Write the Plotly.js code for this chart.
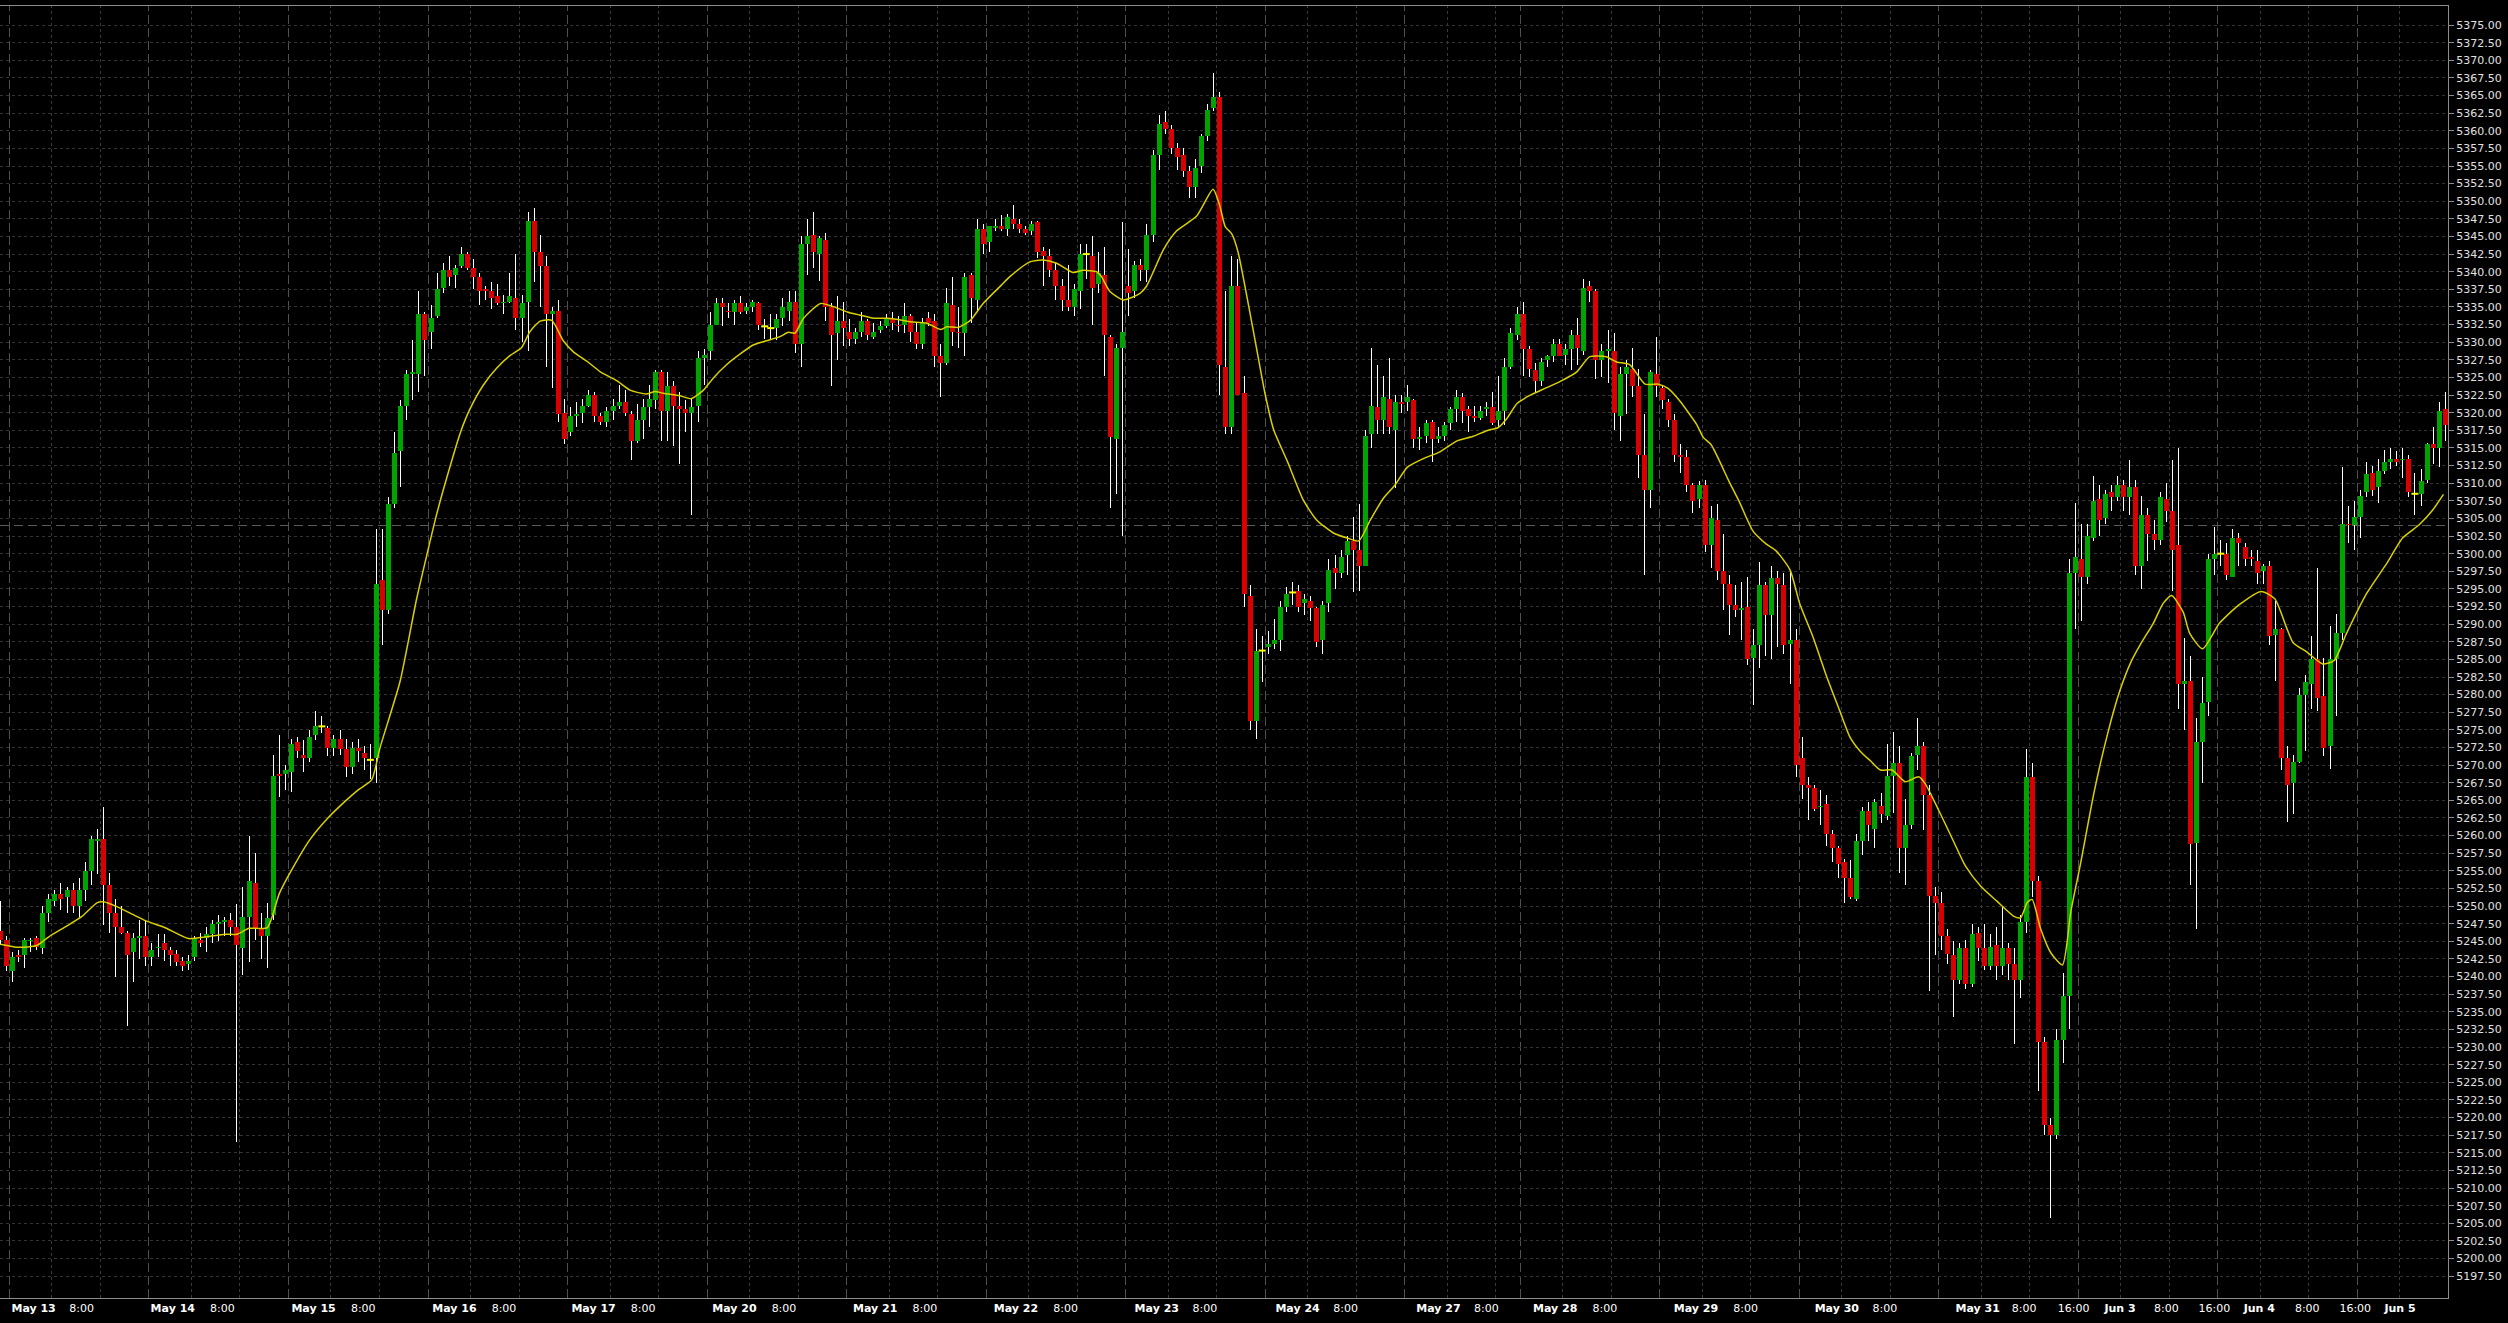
<!DOCTYPE html>
<html><head><meta charset="utf-8">
<script src="https://cdn.plot.ly/plotly-3.0.1.min.js"></script>
<style>html,body{margin:0;padding:0;background:#000;}#chart{width:2508px;height:1323px;}
#chart .scatterlayer .trace:nth-child(-n+3) path.js-line{shape-rendering:crispEdges;}
#chart .gridlayer path, #chart .shapelayer path{shape-rendering:crispEdges;}
</style>
</head><body><div id="chart"></div>
<script>
// ---- hourly OHLC (one candle per hour) ----
const openP = [
5246.5,5245.25,5240.75,5243,5243,5245,5245.5,5244,5249,5250.75,
5251.75,5251.25,5252.25,5250,5252.25,5255,5259.25,5259.5,5253,5249,
5247,5246.25,5243.5,5245.5,5245.75,5242.75,5244,5244.75,5243.75,5243.25,
5242.25,5241.75,5242.75,5245.25,5245.5,5246,5247.5,5247.75,5248,5247,
5244,5248.5,5253.25,5246.75,5245.75,5248.75,5268.75,5268.75,5269,5273.25,
5271.5,5271,5274.25,5275.5,5275.25,5272.5,5273.75,5272.25,5269.75,5272.5,
5271.75,5270.75,5271,5296.25,5292,5307,5314.5,5321,5325.5,5325.5,
5334,5331.5,5333.75,5337.75,5340.25,5339.5,5340.75,5342.5,5340.5,5339.25,
5337.5,5337.25,5336.5,5335.5,5335.75,5336.25,5333.5,5335.75,5347.25,5342.75,
5340.75,5334,5334.5,5320,5317.25,5319.5,5320,5321,5322.5,5319.5,
5318.75,5320.25,5321,5321.5,5319.75,5316,5319,5320.75,5321.75,5325.75,
5320.25,5323.75,5321,5320.5,5320,5321,5327.75,5328.75,5332.5,5335.5,
5334.5,5334.25,5335.5,5334.5,5335,5335.5,5332.25,5332,5332,5333.5,
5334.5,5335.75,5329.75,5344,5345.25,5342.5,5344.5,5335,5331.25,5333,
5331.5,5330.5,5331.5,5333,5330.75,5331.75,5332.25,5333.25,5332.5,5332.5,
5333.75,5331.5,5329.75,5333.5,5333,5328,5327,5335.25,5331.5,5331.25,
5339.5,5336,5346,5344.25,5346.25,5346.5,5346,5347.5,5346.75,5346,
5345.75,5347,5343,5342.25,5340.25,5338,5336,5335,5337.25,5342.5,
5342.25,5338.25,5339.5,5330.75,5316.25,5329.25,5338,5337.25,5341,5340.25,
5345.25,5356.5,5361.25,5360.25,5357.5,5356.5,5354.25,5352,5355,5359.25,
5363.25,5364.75,5326.5,5318,5338,5322.75,5294,5276.25,5286.25,5286.75,
5287.25,5287.75,5292.5,5294.5,5294.75,5293,5293.25,5292.25,5287.75,5293,
5298,5297.25,5299.75,5301.75,5300.5,5298.25,5317,5320.75,5319,5322,
5317.5,5321.5,5321.5,5321.75,5316.25,5316.75,5318.75,5316.25,5316.75,5318.5,
5320.5,5322.25,5320.5,5319.5,5319.25,5320.5,5320.75,5319,5320.25,5326.5,
5331,5334,5329,5326,5324.5,5327.5,5328,5329.75,5328.25,5329,
5331,5328.75,5338,5337.25,5327.5,5328.75,5328.75,5319.5,5325.5,5326.25,
5323.75,5314,5309,5325.5,5323.5,5321.5,5319,5314,5313.75,5309.75,
5307.75,5309.75,5301.25,5304.75,5297.5,5295.75,5292.75,5292,5292.5,5285.25,
5287,5295.5,5291.25,5296.5,5295.5,5287.25,5287.75,5271,5267.25,5266.75,
5264,5264.5,5260.25,5258.25,5256.25,5254,5251,5259.25,5263.5,5261,
5264.25,5262.75,5268.5,5270.25,5258.25,5261.5,5271.5,5272.75,5265.75,5251.5,
5250.5,5245.75,5243,5239.5,5244,5239,5246.25,5244,5241.5,5244.5,
5241.5,5244,5241.75,5239.5,5247.75,5268.25,5253.5,5230.75,5219,5217.5,
5231,5237.25,5297.25,5299.25,5296.75,5302.25,5307.75,5305,5308.75,5308,
5309.75,5308,5309.5,5298.25,5305.5,5302.75,5302,5307.75,5306,5301.25,
5281.5,5282,5259,5273.25,5279,5299.25,5300,5300,5296.75,5302.25,
5301,5299.5,5299,5297.5,5298.25,5288.5,5289.25,5271,5267.5,5270.5,
5280,5281.5,5285,5279.75,5272.75,5285,5288.75,5304.25,5304,5305.25,
5308.75,5311.5,5309.5,5311.75,5313,5313.5,5313.25,5313.5,5308.5,5308.5,
5310.5,5315.5,5315,5320.5];
const highP = [
5250.75,5245.75,5243.5,5243.75,5245.5,5245.5,5245.75,5250,5251.75,5252.25,
5253.25,5252.75,5253.25,5254,5256.25,5260,5261,5264,5254.75,5251,
5250,5246.5,5246.25,5248,5248,5244.75,5246,5246,5244.25,5243.75,
5242.75,5243,5245.75,5246.25,5247,5248,5248.75,5248.5,5249,5250.25,
5252.75,5260,5257.5,5249,5250.5,5271.5,5274.25,5270,5273.75,5274,
5273.5,5275,5277.75,5277,5275.5,5274.25,5275,5273.75,5273.25,5273.75,
5272.75,5273,5303.5,5303.5,5308,5317.25,5321.75,5326,5330.25,5337.25,
5334.25,5335.25,5339.75,5341.25,5342.25,5341,5343.5,5342.75,5341.75,5339.75,
5338,5338.5,5338.25,5336.75,5339.75,5342.5,5336.75,5348.5,5349,5345.25,
5342.25,5335,5336,5322,5320.75,5321.5,5322,5323.25,5323,5320,
5320.75,5322,5324,5323.25,5320.25,5321.25,5322,5324,5326,5326,
5325.75,5324.5,5323,5321.75,5322,5328.75,5329,5334.25,5336.25,5336.25,
5335.5,5336,5336.5,5335.5,5336,5335.75,5333.25,5334,5334,5336.25,
5337.25,5337.25,5345,5347.5,5348.5,5345,5345.5,5335.5,5336.5,5335.75,
5333.25,5332,5334.25,5333.25,5332.75,5333,5334,5334.25,5333.75,5335.5,
5334,5332.75,5333.5,5334.25,5334,5329.75,5337.75,5339.25,5335,5339.75,
5339.75,5347.5,5346.75,5346.5,5347.5,5348,5348.25,5349.5,5347.5,5346.5,
5347.25,5347.25,5343.5,5343.25,5341.25,5339,5341,5338.25,5344,5344,
5345,5342.75,5343.5,5331,5329.75,5347,5343.25,5341.5,5341.75,5346.75,
5357.25,5362.25,5362.75,5360.75,5358.25,5357.5,5355,5356,5359.5,5363.75,
5368.25,5365.5,5337.25,5342.25,5341.75,5325.25,5295.5,5289.25,5288.25,5289,
5290.75,5293.25,5295.25,5296,5295.5,5294.25,5294,5292.5,5293.25,5299.25,
5299.75,5300.5,5302.5,5305.25,5307,5317.5,5329.25,5326.75,5325.25,5327.75,
5322.5,5322.5,5324,5322,5318,5319,5319,5318,5318.75,5320.75,
5323.25,5322.75,5321,5321,5321,5321.5,5323,5325.25,5327.75,5332,
5335,5335.75,5329.5,5327,5327.75,5328.25,5330.5,5330.5,5329.75,5331.75,
5333.5,5339,5338.75,5337.5,5329.75,5331.75,5331.25,5326.5,5327.5,5329.25,
5326.25,5319.75,5326,5330.75,5324,5322,5319.75,5315.5,5314.75,5310,
5310.25,5310.5,5306.75,5307,5302.75,5297,5295.5,5296,5296.75,5289.25,
5298.75,5296,5298.25,5297.5,5297.25,5297.75,5289.25,5274,5268.25,5267.25,
5266.5,5265.75,5260.75,5258.5,5256.75,5256.5,5260.25,5264,5264.75,5265.25,
5266,5273,5274.75,5272.75,5265.25,5271.75,5276.75,5273.25,5267.25,5252.75,
5252,5246.75,5245,5244.75,5245.25,5247.5,5247,5247.5,5246,5247,
5250,5244.75,5244,5248.75,5272.25,5270.25,5254.25,5231.5,5220,5232.5,
5240.5,5299.25,5307.25,5304.25,5304.25,5311,5309.75,5309,5309.75,5311,
5310.5,5313.25,5310.5,5308.25,5306.5,5304.75,5308.75,5310,5313.25,5315,
5288,5285.5,5276.75,5282.5,5300,5303.75,5302,5301.5,5303.5,5303,
5301.5,5300.5,5300.5,5298.5,5299,5293.25,5289.5,5272.75,5271.5,5281,
5282.75,5288.25,5298,5285.25,5289.75,5291.5,5312.25,5306.75,5307.5,5309,
5313,5312.5,5313.5,5314.75,5315,5314.5,5315,5314,5311.5,5312,
5315.75,5318,5321.5,5323];
const lowP = [
5244.5,5240.75,5239.25,5242,5241.25,5243.5,5243.75,5243.25,5247.75,5250,
5249.5,5249,5249,5248.5,5250.75,5253,5254.5,5247.25,5246.25,5240,
5246,5233,5239.25,5242.5,5241.5,5241.5,5242.75,5242.25,5241.5,5241.5,
5240.75,5241,5242.25,5244.25,5243.5,5244.75,5245,5245.75,5245.75,5216.5,
5240.25,5242,5245.25,5242.5,5241.25,5248,5265.5,5266.5,5266.25,5271,
5269,5270.5,5273.5,5274.5,5271.25,5271.25,5271.5,5268.25,5268.75,5270.5,
5269.25,5268,5267.5,5287,5291.5,5306.5,5309.5,5319,5321.75,5323,
5325.25,5329,5333.5,5337,5338,5337.75,5340.5,5340.25,5337.5,5335.25,
5336,5334.75,5335.25,5334,5335.5,5331.75,5330,5328.75,5338.5,5335,
5326.5,5323.5,5318.75,5315.5,5316.75,5318,5318.5,5320.75,5318.75,5318.25,
5318,5319,5320.5,5319.5,5313.25,5315.75,5316.25,5318,5320.5,5316,
5316,5315.25,5312.75,5317.25,5305.5,5318.75,5324,5327.5,5332.5,5332.25,
5333.5,5332.5,5334,5334,5334.25,5331.75,5330.5,5330.25,5330.25,5332.25,
5333,5328.5,5326.5,5339.5,5340.5,5338.75,5333,5323.75,5327.5,5329.5,
5329.5,5329.75,5330.75,5330.25,5330.5,5331.25,5332,5331.75,5331.5,5331.25,
5330,5329,5329,5332.25,5326.5,5322.25,5326.75,5329.5,5329.25,5328,
5332.75,5334.25,5342.5,5342.75,5345.75,5345.75,5345,5346,5345.5,5345.25,
5345.25,5342,5338,5339.25,5336,5334.5,5334.5,5333.75,5334.75,5339,
5332.5,5337,5325.25,5306.5,5308.5,5302.5,5333.75,5336.25,5338.75,5338.5,
5344.25,5354.5,5359.5,5356.75,5354.5,5353.5,5350.5,5350.5,5354,5358.5,
5362.75,5322.5,5317,5317,5322.5,5292.5,5275,5273.75,5281.75,5285.75,
5286.5,5286.25,5291.75,5292.75,5291.75,5291.25,5290.5,5286.75,5285.75,5291.75,
5295,5296.5,5297,5294.5,5294.75,5298.25,5315,5317,5317,5317,
5309.25,5320,5320.25,5315,5314.75,5315.75,5313,5315.75,5316,5317.5,
5318.75,5318.5,5317.25,5318.75,5319,5319.5,5318.25,5318,5318.25,5326.25,
5330.25,5325.25,5325,5323,5323.75,5326.5,5327.25,5328,5326.75,5326,
5326.75,5328.25,5335.75,5324.75,5325,5324.25,5317.5,5316,5319.75,5322.25,
5310.75,5297,5306.5,5322.25,5320.5,5318,5313,5311.5,5308.75,5305.75,
5306.5,5300.25,5298,5296.25,5292,5288.5,5291,5287.75,5284.25,5278.5,
5283.75,5285.5,5285,5286.75,5285.75,5281.5,5268.25,5265.25,5262.25,5263.5,
5261.5,5258.5,5256.25,5254,5250.5,5251,5250.75,5257.25,5259.25,5258.25,
5261.75,5262.25,5263.25,5254.75,5253,5261,5269.25,5260.75,5238,5243,
5243.75,5241.75,5234.25,5239,5238.25,5238.5,5242.25,5241,5241,5239.5,
5240.25,5239.5,5230.5,5237,5246.25,5251.25,5223.75,5217.5,5205.75,5217,
5227.75,5232.5,5289.25,5290.5,5295.75,5301.75,5302.5,5304.25,5306,5307.5,
5306,5305.5,5297,5295,5299,5300.5,5301.25,5304.5,5294.75,5278,
5275,5253,5246.75,5267.5,5277,5297,5298.25,5296.25,5296.75,5298.25,
5298.25,5298.25,5295.75,5295.75,5287,5282,5269.25,5262,5263,5270.25,
5272,5278,5277.75,5271.25,5269.5,5277,5287.75,5301.5,5300.5,5302.25,
5308,5308.25,5307.25,5311.25,5312,5312.5,5310.75,5308,5305.5,5306.75,
5310,5312.75,5312.25,5316];
const closeP = [
5245.25,5241.5,5242.75,5242.75,5245.25,5245.25,5244.25,5249,5251,5251.75,
5251,5252.25,5250,5252.25,5255,5259.5,5259.5,5253,5249,5247,
5246.25,5243,5245.5,5245.75,5242.75,5243.75,5244.25,5243.75,5243,5242,
5241.5,5242.25,5245.5,5244.75,5246,5247.5,5247.75,5248,5247,5244.5,
5248.5,5253.5,5246.75,5245.75,5248.25,5268.5,5268.5,5269.25,5273,5272,
5271,5274,5275.5,5275.5,5272.5,5273.75,5272.25,5269.75,5272.5,5272,
5271,5270.75,5295.75,5292,5307,5314.25,5321,5325.5,5325.75,5334,
5330.25,5333.5,5337.5,5340.25,5339.25,5340.5,5342.5,5340.5,5339.25,5337.25,
5337.25,5336.25,5335.5,5335.75,5336.5,5333.5,5335.5,5347.25,5342.75,5340.75,
5334,5334.5,5319.75,5316.25,5319.5,5319.75,5321,5322.5,5319.5,5318.75,
5320.25,5321,5321.5,5320,5316,5319,5320.75,5322,5325.75,5320.25,
5323.75,5321,5320.5,5320,5320.75,5327.75,5328.25,5332.5,5335.5,5335,
5334.25,5335.5,5334.25,5335,5335.75,5332.5,5332.25,5332,5333.25,5335,
5335.75,5329.75,5344,5345,5342.75,5344.75,5335,5331,5333,5332,
5330.5,5331.5,5333,5331,5331.5,5332.25,5333.25,5332.75,5332.25,5333.75,
5331.5,5329.75,5332.75,5332.75,5328,5327,5335.5,5331.5,5331.25,5339.25,
5336.25,5346,5344,5346.5,5346.5,5346,5347.75,5346.75,5346,5345.5,
5346.75,5342.75,5342.25,5340.25,5338,5336,5335,5337.5,5342.5,5342.5,
5337.75,5339.75,5331,5316.5,5329.25,5331.5,5337,5341,5340.25,5345.25,
5356.5,5361,5360.25,5357.5,5356.25,5354.25,5352,5354.75,5359.25,5363,
5364.75,5326.75,5318,5338,5322.5,5294.25,5276.25,5286.25,5286.25,5287.25,
5287.75,5292.5,5294.25,5294.5,5292.5,5293.5,5292.25,5287.5,5292.75,5297.75,
5297.25,5299.5,5301.75,5300.5,5298.25,5316.75,5321,5319,5322.25,5318,
5321.5,5321.25,5322.25,5316.25,5316.5,5318.5,5316.25,5316.75,5318.25,5320.5,
5322.25,5320.25,5319.5,5319.25,5320.25,5320.75,5318.5,5320.25,5326.5,5331.25,
5334,5329,5326.25,5324.5,5327.25,5328,5329.75,5328,5329,5331,
5329.25,5337.75,5337.25,5327.5,5328.75,5329,5320,5325.5,5326.5,5323.75,
5314,5309,5325.75,5323.75,5321.75,5319,5314,5313.75,5309.75,5307.5,
5309.75,5301.25,5305,5297.5,5295.75,5292.75,5292,5292.25,5285,5287,
5295.5,5291.25,5296.5,5295.75,5287,5287.75,5270,5267.25,5266.75,5263.75,
5264.25,5260.25,5258.25,5256,5254,5251.25,5259.25,5263.5,5261.5,5264.75,
5263,5268.5,5270.25,5258.25,5261.5,5271.25,5272.75,5265.75,5251.5,5250.5,
5245.75,5243.25,5239.5,5244,5239,5246,5244,5241.5,5244.25,5241.5,
5244,5241.75,5239.5,5247.75,5268.25,5253.5,5230.75,5219,5217.5,5231,
5237.25,5297.25,5299.5,5296.75,5302.5,5307.5,5304.75,5308.5,5308,5309.75,
5308,5309.5,5298.25,5305.5,5302.75,5302,5308,5306,5300.5,5281.5,
5282,5258.75,5273.25,5278.75,5299.25,5300,5300,5297,5302.25,5301.5,
5299.25,5299.25,5297.25,5298.25,5288.25,5289.25,5271,5267.25,5270.5,5280,
5281.75,5285,5279.5,5272.5,5285,5288.75,5304.25,5304,5305.25,5308.25,
5311.25,5309,5311.75,5313,5313.5,5313,5313.5,5308.75,5308.5,5310.25,
5315.5,5315,5320.25,5318.25];

// bars per trading session (first entry: tail of the prior session)
const sessionBars = [2,23,23,23,23,23,23,23,23,23,23,19,23,23,23,23,23,23,15];

// moving average, read at sampled bar positions
const maIndex = [0,3,6,8,11,13.4,16,17,19,22,24,27,31,34,37,39,41,44,46,48,51,54,57,59,
61.2,62.6,65.9,68.6,70.3,71.9,73.6,75.8,77.4,79.6,81.8,84,85.9,87.3,89,90.9,92.8,94.5,96.7,98.9,
101.6,103.8,106.5,107.9,109.3,112,113.9,115.9,117.5,119.7,121.9,124.1,126.3,128.5,129.9,131,132.4,135.2,137.3,139.6,141.2,144,146.2,148.4,
150,152.7,155,156,157.9,159.9,162,165,166.4,169.7,171.9,174.1,176.8,178.5,180.7,181.5,182.9,185.1,187.8,188.9,191.7,193.9,197.2,199.9,
201,201.9,203,204,206.6,208.5,209.9,212.1,214.8,217,219.8,221.9,223.9,225.8,228,229.9,231.9,234.6,237.3,240.1,242.8,245,246.9,248.3,250,252.1,
254.9,257.7,259.8,262,264.7,266.4,268.6,271.1,273.3,274.9,276.8,279.6,280.7,282,285,286.7,288.9,291.1,292.7,295,296.6,298.8,301,303.2,
304.9,306.6,308.2,309.9,311.8,314,316.2,317.3,319.5,322,323.9,326.4,329.1,331.9,333,334.1,334.9,336.3,338,339.9,341.3,342.9,345.1,347.3,349.3,351.2,352.8,
354.9,356.5,357.9,359.8,360.9,363,365.8,369.1,372.7,374.9,377.9,380.1,382.8,384.7,386.7,390,393.3,396,398.7,400.9,402.7];
const maValue = [5244.6,5244.15,5244.4,5245.65,5247.2,5248.5,5250.5,5250.6,5250.0,5248.75,5247.9,5247.0,5245.4,5245.65,5246.0,5246.0,5246.85,5246.95,5251.8,5255.1,5259.4,5262.5,5265.0,5266.5,
5267.9,5272.5,5281.9,5293.5,5299.8,5305.5,5310.8,5317.1,5320.5,5323.9,5326.3,5328.1,5329.2,5331.5,5333.0,5333.1,5330.2,5328.6,5327.3,5325.8,
5324.55,5323.2,5322.65,5323.0,5322.75,5322.4,5322.0,5323.2,5324.9,5326.8,5328.3,5329.6,5330.2,5330.8,5331.4,5331.3,5333.4,5335.5,5335.05,5334.3,5333.95,5333.4,5333.4,5333.15,
5332.9,5332.7,5331.8,5332.2,5332.1,5333.1,5335.5,5338.1,5339.3,5341.4,5341.65,5341.2,5339.9,5340.2,5340.0,5339.3,5337.2,5336.0,5336.9,5337.9,5343.1,5345.8,5347.9,5351.7,
5349.4,5346.4,5345.35,5342.85,5331.3,5322.55,5317.55,5313.2,5307.55,5304.75,5302.9,5302.25,5301.8,5304.75,5307.9,5309.75,5312.25,5313.5,5314.45,5316.0,5316.65,5317.45,5317.9,5319.15,5321.3,5322.45,
5323.55,5324.7,5325.75,5327.95,5327.95,5327.2,5326.8,5324.05,5324.05,5323.45,5321.7,5318.35,5316.5,5315.45,5310.15,5307.25,5303.2,5301.35,5300.4,5297.7,5292.9,5288.15,5282.65,5277.7,
5273.95,5271.95,5270.65,5269.3,5269.3,5267.65,5268.35,5267.35,5263.6,5259.1,5255.7,5252.85,5250.7,5248.55,5248.35,5250.5,5250.95,5246.8,5243.35,5241.65,5249.3,5256.1,5266.1,5274.3,5280.4,5284.65,5287.2,
5290.15,5292.95,5294.05,5291.7,5288.65,5286.5,5290.15,5292.8,5294.65,5293.6,5287.4,5286.1,5284.35,5284.85,5288.65,5294.3,5298.55,5302.25,5304.1,5306.15,5308.4];

// axis labels
const tickLabels = ['May 13','8:00','May 14','8:00','May 15','8:00','May 16','8:00','May 17','8:00',
 'May 20','8:00','May 21','8:00','May 22','8:00','May 23','8:00','May 24','8:00','May 27','8:00',
 'May 28','8:00','May 29','8:00','May 30','8:00','May 31','8:00','16:00','Jun 3','8:00','16:00',
 'Jun 4','8:00','16:00','Jun 5'];
const priceLabelMin = 5197.5, priceLabelMax = 5375.0, priceStep = 2.5;
const markerLevel = 5304.0;

// ---- layout helpers (positions, not data) ----
const tickIndex = [5.49,13.40,28.43,36.61,51.64,59.82,74.85,83.02,97.79,105.97,121.0,129.17,144.21,152.38,
 167.41,175.59,190.62,198.53,213.83,221.74,237.04,244.95,256.29,264.47,279.5,287.68,302.71,310.62,
 325.92,333.57,341.74,349.39,357.04,364.95,372.34,380.25,388.16,395.54];

const N = openP.length;
const wx=[], wy=[], ux=[], uy=[], dx=[], dy=[], zx=[], zy=[];
for (let i=0;i<N;i++){
  wx.push(i,i,null); wy.push(lowP[i],highP[i],null);
  if (closeP[i]>openP[i]) { ux.push(i,i,null); uy.push(openP[i],closeP[i],null); }
  else if (closeP[i]<openP[i]) { dx.push(i,i,null); dy.push(openP[i],closeP[i],null); }
  else { zx.push(i); zy.push(closeP[i]); }
}

const yTicks = [];
for (let v=priceLabelMin; v<=priceLabelMax+1e-9; v+=priceStep) yTicks.push(+v.toFixed(2));

const shapes = [];
let b = -0.5;
sessionBars.forEach((n,k)=>{
  const start = b; b += n;
  if (k>0){
    [7,15].forEach(off=>{ if (off<n) shapes.push({type:'line',xref:'x',yref:'paper',x0:start+off,x1:start+off,y0:0,y1:1,layer:'below',line:{color:'#3a3a3a',width:1,dash:'3px,3px'}}); });
  }
  if (k<sessionBars.length-1) shapes.push({type:'line',xref:'x',yref:'paper',x0:b,x1:b,y0:0,y1:1,layer:'below',line:{color:'#505050',width:1,dash:'9px,4px'}});
});
shapes.push({type:'line',xref:'paper',yref:'y',x0:0,x1:1,y0:markerLevel,y1:markerLevel,layer:'below',line:{color:'#5a5a5a',width:1,dash:'9px,5px'}});

const traces = [
  {type:'scatter',mode:'lines',x:wx,y:wy,line:{color:'#ffffff',width:1,simplify:false},hoverinfo:'skip'},
  {type:'scatter',mode:'lines',x:ux,y:uy,line:{color:'#00a400',width:5,simplify:false},hoverinfo:'skip'},
  {type:'scatter',mode:'lines',x:dx,y:dy,line:{color:'#d80000',width:5,simplify:false},hoverinfo:'skip'},
  {type:'scatter',mode:'markers',x:zx,y:zy,marker:{symbol:'line-ew',size:5,line:{color:'#ffff00',width:2}},hoverinfo:'skip'},
  {type:'scatter',mode:'lines',x:maIndex,y:maValue,line:{color:'#d8d000',width:1.5,shape:'spline',smoothing:0.6},hoverinfo:'skip'}
];

const layout = {
  width:2508, height:1323,
  paper_bgcolor:'#000', plot_bgcolor:'#000',
  margin:{l:0,r:60,t:6,b:25},
  showlegend:false, hovermode:false,
  font:{family:'DejaVu Sans, Verdana, sans-serif',size:11,color:'#e8e8e8'},
  xaxis:{range:[-0.05,403.45],tickmode:'array',tickvals:tickIndex,
    ticktext:tickLabels.map(t=>/^[A-Z]/.test(t)?'<b>'+t+'</b>':t),
    showgrid:false,zeroline:false,ticks:'',showline:true,linecolor:'#8c8c8c',linewidth:1,mirror:true,
    tickfont:{family:'DejaVu Sans, Verdana, sans-serif',size:11,color:'#ffffff'},fixedrange:true},
  yaxis:{side:'right',range:[5194.4,5377.7],tickmode:'array',tickvals:yTicks,
    ticktext:yTicks.map(v=>v.toFixed(2)),
    showgrid:true,gridcolor:'#333333',griddash:'3px,3px',gridwidth:1,zeroline:false,
    ticks:'outside',ticklen:5,tickcolor:'#8c8c8c',showline:true,linecolor:'#8c8c8c',mirror:true,
    tickfont:{family:'DejaVu Sans, Verdana, sans-serif',size:11,color:'#e0e0e0'},fixedrange:true},
  shapes:shapes
};
Plotly.newPlot('chart',traces,layout,{displayModeBar:false,staticPlot:true});
</script></body></html>
